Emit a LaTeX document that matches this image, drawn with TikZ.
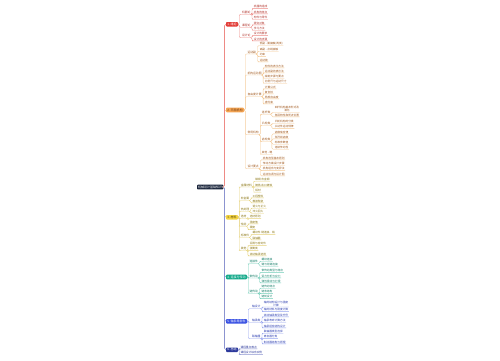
\documentclass[tikz,border=0pt]{standalone}
\usepackage{fontspec}
\setmainfont{Noto Sans CJK SC}
\definecolor{rootc}{HTML}{18233A}
\definecolor{redm}{HTML}{E23B36}\definecolor{redl}{HTML}{EE8A85}\definecolor{redt}{HTML}{B03028}
\definecolor{orgm}{HTML}{F6A553}\definecolor{orgl}{HTML}{F5C893}\definecolor{orgt}{HTML}{A0561A}
\definecolor{yelm}{HTML}{F4D444}\definecolor{yell}{HTML}{E6D27A}\definecolor{yelt}{HTML}{8A7410}
\definecolor{tealm}{HTML}{13A98A}\definecolor{teall}{HTML}{6FCDB8}\definecolor{tealt}{HTML}{0E7A64}
\definecolor{blum}{HTML}{3A52E3}\definecolor{blul}{HTML}{95A3F0}\definecolor{blut}{HTML}{2A3CB0}
\definecolor{dblm}{HTML}{2D3A9C}\definecolor{dbll}{HTML}{8C94D0}\definecolor{dblt}{HTML}{2D3A9C}
\tikzset{
 mainbox/.style={anchor=west, rounded corners=0.7pt, inner xsep=1.1pt, inner ysep=0pt, minimum height=4.6pt, font=\fontsize{3}{3.4}\selectfont},
 subn/.style={anchor=west, inner xsep=0.4pt, inner ysep=0.5pt, font=\fontsize{2.8}{3.2}\selectfont},
 leafn/.style={anchor=west, inner xsep=0.4pt, inner ysep=0.45pt, font=\fontsize{2.7}{3.1}\selectfont, align=center},
 conn/.style={line width=0.35pt, rounded corners=1.2pt},
 trunk/.style={line width=0.6pt, rounded corners=1.5pt},
}
% #1 style, #2 name, #3 parent, #4 gap, #5 y, #6 text
\newcommand\kid[6]{\path (#3.east) ++(#4,0) coordinate (tmpc); \node[#1] (#2) at (tmpc |- 0,#5) {#6};}
\newcommand\ulink[3]{\draw[conn,#1] (#2.south east) -- ++(0.9,0) |- (#3.south west) -- (#3.south east);}
\newcommand\mlink[3]{\draw[conn,#1] (#2.east) -- ++(1.2,0) |- (#3.south west) -- (#3.south east);}
\newcommand\rlink[3]{\draw[trunk,#1] (#2.east) -- ++(1,0) |- (#3.west);}
\begin{document}
\begin{tikzpicture}[x=1pt,y=-1pt]
\fill[white] (0,0) rectangle (500,360);
\useasboundingbox (0,0) rectangle (500,360);
% root
\node[mainbox, fill=rootc, text=white, anchor=east] (root) at (223.5,187) {机械设计基础知识};
% ===== red
\node[mainbox, fill=redm, text=white] (m1) at (226,24.3) {1. 绪论};
\kid{subn,text=redt}{r1}{m1}{3.5}{12.3}{机器论}
\kid{subn,text=redt}{r2}{m1}{3.5}{25.3}{课程论}
\kid{subn,text=redt}{r3}{m1}{3.5}{35.7}{设计论}
\kid{leafn,text=redt}{r1a}{r1}{2.2}{6.7}{机器的组成}
\kid{leafn,text=redt}{r1b}{r1}{2.2}{12}{机构的特点}
\kid{leafn,text=redt}{r1c}{r1}{2.2}{17.3}{构件与零件}
\kid{leafn,text=redt}{r2a}{r2}{2.2}{23}{研究对象}
\kid{leafn,text=redt}{r2b}{r2}{2.2}{28.3}{学习方法}
\kid{leafn,text=redt}{r3a}{r3}{2.2}{33.7}{设计的要求}
\kid{leafn,text=redt}{r3b}{r3}{2.2}{39}{设计的步骤}
\foreach \c in {r1,r2,r3}{\mlink{redl}{m1}{\c}}
\foreach \c in {r1a,r1b,r1c}{\ulink{redl}{r1}{\c}}
\foreach \c in {r2a,r2b}{\ulink{redl}{r2}{\c}}
\foreach \c in {r3a,r3b}{\ulink{redl}{r3}{\c}}
% ===== orange
\node[mainbox, fill=orgm, text=orgt!70!black] (m2) at (226,110) {2. 平面机构};
\kid{subn,text=orgt}{o1}{m2}{3}{52}{运动副}
\kid{subn,text=orgt}{o2}{m2}{3}{73}{机构运动图}
\kid{subn,text=orgt}{o3}{m2}{3}{94.7}{自由度计算}
\kid{subn,text=orgt}{o4}{m2}{3}{132.7}{常用机构}
\kid{subn,text=orgt}{o5}{m2}{3}{166.7}{设计要点}
\kid{leafn,text=orgt}{o1a}{o1}{2.6}{43.7}{低副 - 面接触(两类)}
\kid{leafn,text=orgt}{o1b}{o1}{2.6}{49.3}{高副 - 点线接触}
\kid{leafn,text=orgt}{o1c}{o1}{2.6}{54.7}{约束}
\kid{leafn,text=orgt}{o1d}{o1}{2.6}{60}{运动链}
\kid{leafn,text=orgt}{o2a}{o2}{2.2}{66}{构件的表示方法}
\kid{leafn,text=orgt}{o2b}{o2}{2.2}{71}{运动副的表示法}
\kid{leafn,text=orgt}{o2c}{o2}{2.2}{76.3}{绘制步骤与要点}
\kid{leafn,text=orgt}{o2d}{o2}{2.2}{81.3}{比例尺与运动尺寸}
\kid{leafn,text=orgt}{o3a}{o3}{2.2}{87}{计算公式}
\kid{leafn,text=orgt}{o3b}{o3}{2.2}{92}{复合铰}
\kid{leafn,text=orgt}{o3c}{o3}{2.2}{97}{局部自由度}
\kid{leafn,text=orgt}{o3d}{o3}{2.2}{102}{虚约束}
\kid{subn,text=orgt}{g1}{o4}{2}{112.3}{连杆类}
\kid{subn,text=orgt}{g2}{o4}{2}{123.3}{凸轮类}
\kid{subn,text=orgt}{g3}{o4}{2}{139.7}{齿轮类}
\kid{leafn,text=orgt}{g4}{o4}{2}{152.3}{其他 - 略}
\kid{leafn,text=orgt}{g1a}{g1}{3.2}{108.8}{四杆机构基本形式及\\演化}
\kid{leafn,text=orgt}{g1b}{g1}{3.2}{115}{急回特性和死点位置}
\kid{leafn,text=orgt}{g2a}{g2}{3.2}{121.3}{凸轮机构的分类}
\kid{leafn,text=orgt}{g2b}{g2}{3.2}{126.7}{从动件运动规律}
\kid{leafn,text=orgt}{g3a}{g3}{3.2}{132}{齿廓啮合律}
\kid{leafn,text=orgt}{g3b}{g3}{3.2}{137}{渐开线齿廓}
\kid{leafn,text=orgt}{g3c}{g3}{3.2}{142.3}{标准参数值}
\kid{leafn,text=orgt}{g3d}{g3}{3.2}{147.3}{连续传动性}
\kid{leafn,text=orgt}{o5a}{o5}{3}{158}{机构选型基本原则}
\kid{leafn,text=orgt}{o5b}{o5}{3}{163.3}{传动方案设计步骤}
\kid{leafn,text=orgt}{o5c}{o5}{3}{168.7}{机构组合与变异法}
\kid{leafn,text=orgt}{o5d}{o5}{3}{174}{运动协调与设计图}
\foreach \c in {o1,o2,o3,o4,o5}{\mlink{orgl}{m2}{\c}}
\foreach \c in {o1a,o1b,o1c,o1d}{\ulink{orgl}{o1}{\c}}
\foreach \c in {o2a,o2b,o2c,o2d}{\ulink{orgl}{o2}{\c}}
\foreach \c in {o3a,o3b,o3c,o3d}{\ulink{orgl}{o3}{\c}}
\foreach \c in {g1,g2,g3,g4}{\ulink{orgl}{o4}{\c}}
\foreach \c in {g1a,g1b}{\ulink{orgl}{g1}{\c}}
\foreach \c in {g2a,g2b}{\ulink{orgl}{g2}{\c}}
\foreach \c in {g3a,g3b,g3c,g3d}{\ulink{orgl}{g3}{\c}}
\foreach \c in {o5a,o5b,o5c,o5d}{\ulink{orgl}{o5}{\c}}
% ===== yellow
\node[mainbox, fill=yelm, text=yelt!60!black] (m3) at (226,217.3) {3. 材料};
\kid{subn,text=yelt}{y1}{m3}{2.2}{185}{金属材料}
\kid{subn,text=yelt}{y2}{m3}{2.2}{198.7}{非金属}
\kid{subn,text=yelt}{y3}{m3}{2.2}{209.3}{热处理}
\kid{subn,text=yelt}{y4}{m3}{2.2}{216.7}{选材}
\kid{subn,text=yelt}{y5}{m3}{2.2}{224.3}{性能}
\kid{subn,text=yelt}{y6}{m3}{2.2}{235.3}{标准件}
\kid{subn,text=yelt}{y7}{m3}{2.2}{248.7}{其他}
\kid{leafn,text=yelt}{y1a}{y1}{2.2}{179.3}{碳钢 合金钢}
\kid{leafn,text=yelt}{y1b}{y1}{2.2}{185}{铸铁 灰口铸铁}
\kid{leafn,text=yelt}{y1c}{y1}{2.2}{190.3}{铝材}
\kid{leafn,text=yelt}{y2a}{y2}{2.2}{196}{工程塑料}
\kid{leafn,text=yelt}{y2b}{y2}{2.2}{201}{橡胶陶瓷}
\kid{leafn,text=yelt}{y3a}{y3}{2.2}{206.3}{退火与正火}
\kid{leafn,text=yelt}{y3b}{y3}{2.2}{211.3}{淬火回火}
\kid{leafn,text=yelt}{y4a}{y4}{2.2}{216.7}{选材原则}
\kid{leafn,text=yelt}{y5a}{y5}{2.2}{222}{强度值}
\kid{leafn,text=yelt}{y5b}{y5}{2.2}{227.7}{硬度}
\kid{leafn,text=yelt}{y6a}{y6}{2.2}{232.7}{螺纹件 键连接，销}
\kid{leafn,text=yelt}{y6b}{y6}{2.2}{238}{联轴器}
\kid{leafn,text=yelt}{y7a}{y7}{2.2}{243.7}{润滑与密封件}
\kid{leafn,text=yelt}{y7b}{y7}{2.2}{248.7}{弹簧类}
\kid{leafn,text=yelt}{y7c}{y7}{2.2}{254}{滚动轴承选用}
\foreach \c in {y1,y2,y3,y4,y5,y6,y7}{\mlink{yell}{m3}{\c}}
\foreach \c in {y1a,y1b,y1c}{\ulink{yell}{y1}{\c}}
\foreach \c in {y2a,y2b}{\ulink{yell}{y2}{\c}}
\foreach \c in {y3a,y3b}{\ulink{yell}{y3}{\c}}
\ulink{yell}{y4}{y4a}
\foreach \c in {y5a,y5b}{\ulink{yell}{y5}{\c}}
\foreach \c in {y6a,y6b}{\ulink{yell}{y6}{\c}}
\foreach \c in {y7a,y7b,y7c}{\ulink{yell}{y7}{\c}}
% ===== teal
\node[mainbox, fill=tealm, text=white] (m4) at (226,277) {4. 连接与传动};
\kid{subn,text=tealt}{t1}{m4}{2}{261.7}{连接件}
\kid{subn,text=tealt}{t2}{m4}{2}{276}{带传动}
\kid{subn,text=tealt}{t3}{m4}{2}{291.3}{链传动}
\kid{leafn,text=tealt}{t1a}{t1}{2.4}{259.3}{螺纹连接}
\kid{leafn,text=tealt}{t1b}{t1}{2.4}{264.3}{键与花键连接}
\kid{leafn,text=tealt}{t2a}{t2}{2.4}{270.7}{带传动类型与特点}
\kid{leafn,text=tealt}{t2b}{t2}{2.4}{276}{受力分析与应力}
\kid{leafn,text=tealt}{t2c}{t2}{2.4}{281}{弹性滑动与打滑}
\kid{leafn,text=tealt}{t3a}{t3}{2.4}{286.3}{链传动特点}
\kid{leafn,text=tealt}{t3b}{t3}{2.4}{291.7}{链条结构}
\kid{leafn,text=tealt}{t3c}{t3}{2.4}{296.7}{链轮设计}
\foreach \c in {t1,t2,t3}{\mlink{teall}{m4}{\c}}
\foreach \c in {t1a,t1b}{\ulink{teall}{t1}{\c}}
\foreach \c in {t2a,t2b,t2c}{\ulink{teall}{t2}{\c}}
\foreach \c in {t3a,t3b,t3c}{\ulink{teall}{t3}{\c}}
% ===== blue
\node[mainbox, fill=blum, text=white] (m5) at (226,321.3) {5. 轴系零部件};
\kid{subn,text=blut}{b1}{m5}{4.5}{306.7}{轴设计}
\kid{subn,text=blut}{b2}{m5}{4.5}{320.3}{轴承类}
\kid{subn,text=blut}{b3}{m5}{4.5}{336.7}{联轴器}
\kid{leafn,text=blut}{b1a}{b1}{2.2}{303.6}{轴的结构设计与强度\\计算}
\kid{leafn,text=blut}{b1b}{b1}{2.2}{309.7}{轴的材料与刚度计算}
\kid{leafn,text=blut}{b2a}{b2}{2.2}{315}{滚动轴承类型及代号}
\kid{leafn,text=blut}{b2b}{b2}{2.2}{320.3}{轴承寿命计算方法}
\kid{leafn,text=blut}{b2c}{b2}{2.2}{326}{轴承组合结构设计}
\kid{leafn,text=blut}{b3a}{b3}{2.2}{331.3}{联轴器类型选择}
\kid{leafn,text=blut}{b3b}{b3}{2.2}{336.7}{离合器分类}
\kid{leafn,text=blut}{b3c}{b3}{2.2}{342}{制动器结构与原理}
\foreach \c in {b1,b2,b3}{\mlink{blul}{m5}{\c}}
\foreach \c in {b1a,b1b}{\ulink{blul}{b1}{\c}}
\foreach \c in {b2a,b2b,b2c}{\ulink{blul}{b2}{\c}}
\foreach \c in {b3a,b3b,b3c}{\ulink{blul}{b3}{\c}}
% ===== dark blue
\node[mainbox, fill=dblm, text=white] (m6) at (226,349.8) {6. 总结};
\kid{leafn,text=dblt}{d1}{m6}{2}{347}{课程重点难点}
\kid{leafn,text=dblt}{d2}{m6}{2}{352.7}{课程设计综合实例}
\foreach \c in {d1,d2}{\mlink{dbll}{m6}{\c}}
% ===== trunk
\rlink{yell}{root}{m3}
\rlink{teall}{root}{m4}
\rlink{blul}{root}{m5}
\rlink{dbll}{root}{m6}
\rlink{orgl}{root}{m2}
\rlink{redl}{root}{m1}
\end{tikzpicture}
\end{document}
